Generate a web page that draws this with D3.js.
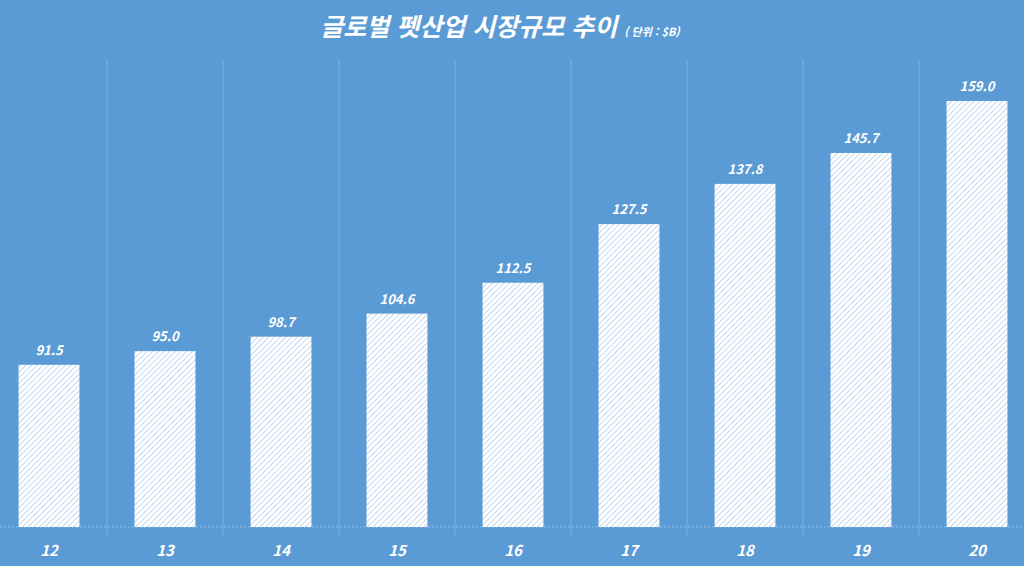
<!DOCTYPE html>
<html lang="ko">
<head>
<meta charset="UTF-8">
<script src="https://d3js.org/d3.v7.min.js"></script>
<style>
  body { margin: 0; background: #5b9bd5; }
  text { font-family: "Noto Sans CJK KR", "Noto Sans", sans-serif; fill: #fff; }
</style>
</head>
<body>
<svg id="chart"></svg>
<script>
const years = ["12", "13", "14", "15", "16", "17", "18", "19", "20"];
const values = [91.5, 95.0, 98.7, 104.6, 112.5, 127.5, 137.8, 145.7, 159.0];

const width = 1024, height = 566;
const svg = d3.select("#chart").attr("width", width).attr("height", height);

const defs = svg.append("defs");
const pat = defs.append("pattern")
    .attr("id", "hatch").attr("patternUnits", "userSpaceOnUse")
    .attr("width", 4).attr("height", 4)
    .attr("patternTransform", "rotate(45)");
pat.append("rect").attr("width", 4).attr("height", 4).attr("fill", "#fff");
pat.append("line").attr("x1", 0).attr("y1", 0).attr("x2", 0).attr("y2", 4)
    .attr("stroke", "#a9c8ec").attr("stroke-width", 1.4);

const x = d3.scaleBand().domain(years).range([-9, 1035]).paddingInner(0.475).paddingOuter(0.2375);
const y = d3.scaleLinear().domain([50, 170]).range([527, 58]);

// gridlines between categories
const edges = years.slice(1).map(d => x(d) - x.step() * x.paddingInner() / 2);
svg.append("g").selectAll("line").data(edges).join("line")
    .attr("x1", d => d).attr("x2", d => d).attr("y1", 60).attr("y2", 535)
    .attr("stroke", "#7fb0e0").attr("stroke-width", 1);

svg.append("line").attr("x1", 0).attr("x2", width).attr("y1", 527).attr("y2", 527)
    .attr("stroke", "#8dbbe6").attr("stroke-dasharray", "2,2");

svg.append("g").selectAll("rect").data(values).join("rect")
    .attr("x", (d, i) => x(years[i]))
    .attr("width", x.bandwidth())
    .attr("y", d => y(d))
    .attr("height", d => y(50) - y(d))
    .attr("fill", "url(#hatch)");

svg.append("g").selectAll("text").data(values).join("text")
    .attr("x", (d, i) => x(years[i]) + x.bandwidth() / 2)
    .attr("y", d => y(d) - 10)
    .attr("text-anchor", "middle")
    .attr("font-size", 13).attr("font-weight", "bold").attr("font-style", "italic")
    .text(d => d.toFixed(1));

svg.append("g").selectAll("text").data(years).join("text")
    .attr("x", d => x(d) + x.bandwidth() / 2)
    .attr("y", 556)
    .attr("text-anchor", "middle")
    .attr("font-size", 15).attr("font-weight", "bold").attr("font-style", "italic")
    .text(d => d);

const title = svg.append("text").attr("x", 500).attr("y", 36)
    .attr("text-anchor", "middle").attr("font-weight", "bold").attr("font-style", "italic");
title.append("tspan").attr("font-size", 25).text("글로벌 펫산업 시장규모 추이 ");
title.append("tspan").attr("font-size", 11).text("( 단위 : $B)");
</script>
</body>
</html>
